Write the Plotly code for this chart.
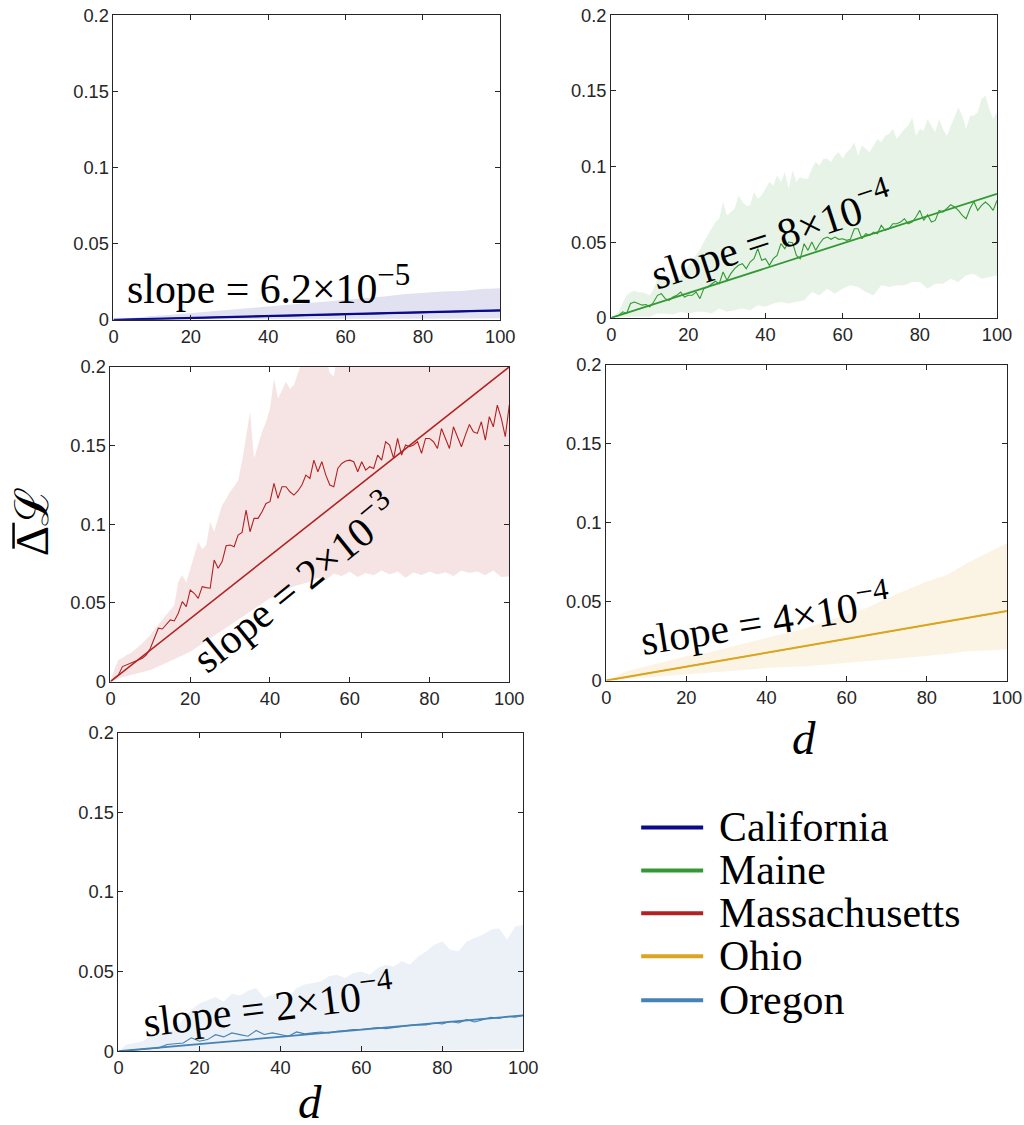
import plotly.graph_objects as go

# The page is photographed with the body's 8px margin and a slight downscale;
# reference pixel R maps to figure pixel R / S - OFF (with a small linear touch-up).
OFF = 8
SX, SY = 0.978, 0.9846
W, H = 1040, 1152


def px(x):
    xr = (x + 3.4) / 1.0034
    return (xr / SX - OFF) / W


def py(y):
    yr = (y - 1.0) / 0.998
    return 1 - (yr / SY - OFF) / H


def fs(size):
    return round(size / 0.981, 1)


# ---------------- data (values in units of 1e-3) ----------------
states = ["California", "Maine", "Massachusetts", "Ohio", "Oregon"]
line_colors = ["#0a0a8a", "#339933", "#b22222", "#daa520", "#4682b4"]
band_colors = ["rgba(10,10,138,0.12)", "rgba(51,153,51,0.12)", "rgba(178,34,34,0.12)",
               "rgba(218,165,32,0.12)", "rgba(70,130,180,0.11)"]
SUP = '<sup><span style="font-size:%dpx">%%s</span></sup>' % round(30 / 0.981)
slope_labels = ["slope = 6.2×10" + SUP % "−5", "slope = 8×10" + SUP % "−4",
                "slope = 2×10" + SUP % "−3", "slope = 4×10" + SUP % "−4",
                "slope = 2×10" + SUP % "−4"]
fit_x = [0, 100]
fit_end = [6.2, 82.0, 200.0, 44.0, 22.5]

x_step1 = list(range(0, 101))
x_step2 = list(range(0, 101, 2))
x_step5 = list(range(0, 101, 5))
x_step10 = list(range(0, 101, 10))

# California
ca_mean = [0, 0.3, 0.6, 0.9, 1.2, 1.5, 1.9, 2.2, 2.5, 2.8, 3.1, 3.4, 3.7, 4.0, 4.3, 4.7, 5.0, 5.3, 5.6, 5.9, 6.2]
ca_upper = [0, 1.5, 2.6, 3.3, 4.4, 5.5, 6.3, 7.7, 8.7, 9.4, 10.9, 11.6, 13.1, 14.2, 15.3, 16.8, 17.9, 18.6, 19.0, 20.3, 20.8]
ca_lower = [0, 0.0, 0.1, 0.1, 0.2, 0.2, 0.3, 0.3, 0.4, 0.4, 0.5, 0.5, 0.6, 0.6, 0.7, 0.7, 0.8, 0.8, 0.9, 0.9, 1.0]

# Maine
me_mean = [0, 1, 1.8, 4.0, 2.9, 9.5, 10.5, 9.5, 8.4, 8.8,
           7.3, 10.5, 14.9, 16.0, 12.7, 11.6, 13.8, 14.9, 17.1, 13.8,
           14.9, 14.9, 17.1, 12.7, 19.3, 20.4, 22.6, 24.2, 22.6, 30.3,
           24.8, 29.2, 32.5, 34.7, 35.8, 32.5, 36.9, 39.1, 45.7, 38.0,
           39.1, 34.7, 39.1, 41.3, 49.0, 45.7, 50.1, 49.7, 41.3, 39.1,
           49.0, 44.6, 50.1, 44.6, 49.0, 52.3, 53.4, 51.9, 53.4, 51.9,
           52.3, 51.2, 51.9, 58.9, 58.9, 52.3, 55.6, 54.5, 56.7, 55.6,
           61.1, 57.8, 58.9, 62.2, 62.2, 63.3, 65.5, 62.2, 63.3, 66.6,
           71.0, 64.4, 68.1, 63.3, 64.4, 71.0, 69.9, 72.1, 74.7, 73.2,
           71.0, 67.7, 65.5, 72.1, 76.9, 71.0, 74.3, 76.5, 74.3, 71.0,
           77.6]
me_upper = [0, 2, 4.4, 10, 14.9, 17, 18, 17, 17, 16,
            15, 19, 25.9, 26, 25.9, 25, 24.8, 26, 28.1, 31,
            34.7, 38, 41.3, 45, 50.1, 54.5, 58, 63.3, 65.5, 76.5,
            67.7, 70, 72.1, 80.9, 76.5, 74, 74.3, 83.1, 78.7, 80.9,
            85.3, 89.7, 87.5, 94.1, 89.7, 96.3, 85.3, 97.4, 89.7, 93,
            91.9, 91.9, 98.5, 102.9, 100.7, 105.1, 105.1, 102.9, 107.3, 109.5,
            105.1, 109.5, 111.6, 116, 107.3, 113.8, 111.6, 109.5, 113.8, 118.2,
            116, 120.4, 121.5, 124.8, 118.2, 121.5, 124.8, 127, 132.5, 120.4,
            124.8, 123.7, 131.4, 127, 122.6, 131.4, 124.8, 120.4, 127, 132.5,
            139, 133.6, 124.8, 133.6, 133.6, 135.8, 144.6, 146.8, 138, 131.4,
            135.8]
me_lower = [0, 0.4, 0.7, 0.7, 0.9, 0.7, 2.9, 2.9, 2.2, 4.0,
            2.9, 4.0, 4.0, 2.9, 6.2, 4.0, 5.1, 6.2, 5.1, 8.4,
            7.3, 9.5, 10.5, 9.5, 10.5, 11.6, 17.1, 14.9, 19.3, 16.0,
            19.3, 21.5, 20.4, 17.1, 14.9, 21.5, 20.4, 21.5, 21.5, 23.7,
            23.7, 19.3, 22.6, 22.6, 25.9, 23.7, 28.1, 29.2, 25.9, 27.0,
            28.1]

# Massachusetts
ma_mean = [0, 2, 4.2, 9.5, 10.6, 11.6, 13.1, 13.8, 14.8, 16.9,
           21.2, 27.5, 33.9, 33.4, 36.0, 39.2, 38.5, 43.4, 50.8, 47.6,
           58.2, 56.1, 52.9, 60.3, 59.7, 59.3, 77.2, 72.0, 76.2, 86.3,
           86.8, 85.7, 93.1, 94.8, 109.0, 95.2, 103.7, 103.7, 107.9, 113.2,
           114.3, 125.9, 116.4, 123.8, 123.8, 120.6, 118.5, 121.1, 124.9, 131.2,
           129.1, 140.7, 133.3, 139.7, 131.2, 124.9, 123.8, 135.4, 138.6, 140.1,
           140.7, 139.7, 133.3, 139.7, 134.4, 136.5, 135.4, 143.9, 140.7, 152.4,
           150.3, 141.8, 154.5, 143.9, 150.3, 149.2, 150.3, 152.4, 145.0, 154.5,
           154.5, 152.4, 148.1, 160.8, 154.5, 148.1, 161.9, 155.6, 149.2, 156.6,
           163.4, 158.7, 157.7, 165.1, 153.4, 168.3, 161.9, 175.7, 167.2, 155.6,
           175.7]
ma_upper = [0, 8, 13.8, 15, 16.9, 18, 20.1, 22, 24.3, 27,
            29.6, 33, 36.0, 39, 42.3, 45, 48.7, 63.5, 67.7, 63,
            72.0, 80, 88.9, 84, 86.8, 101.6, 95.2, 104, 112.2, 116,
            120.6, 124, 128.0, 140, 156.6, 171.4, 141.8, 150, 158.7, 165,
            173.5, 192.6, 179.9, 185, 190.5, 186, 188.4, 196, 203, 215,
            212, 208, 220, 215, 205, 196, 194, 210, 225, 230,
            240, 245, 240, 250, 245, 250, 255, 250, 255, 260,
            255, 260, 265, 260, 265, 270, 265, 270, 275, 270,
            275, 280, 275, 280, 285, 280, 285, 290, 285, 290,
            295, 290, 295, 300, 295, 300, 305, 300, 305, 300,
            305]
ma_lower = [0, 2.1, 3.5, 4.8, 6.0, 7.4, 9.5, 11.6, 14.0, 16.5,
            19.0, 22.0, 25.5, 29.0, 32.5, 36.0, 39.5, 42.5, 46.0, 49.5,
            52.9, 55.0, 58.0, 60.5, 62.0, 63.5, 66.0, 64.5, 68.5, 67.0,
            69.8, 66.5, 69.0, 67.5, 70.5, 68.0, 70.0, 66.0, 69.5, 67.5,
            70.0, 68.0, 69.5, 67.0, 70.5, 69.0, 70.0, 67.5, 70.5, 66.5,
            66.7]

# Ohio
oh_mean = [0, 2.3, 4.6, 6.8, 8.8, 11.0, 13.2, 15.4, 17.6, 19.6, 22.0, 24.0, 26.4, 28.8, 30.8, 33.0, 35.2, 37.4, 39.5, 41.6, 44.0]
oh_upper = [0, 5.9, 9.1, 12.2, 15.4, 17.5, 20.6, 23.8, 26.9, 30.1, 33.3, 37.5, 41.7, 45.9, 52.2, 57.5, 62.7, 66.9, 74.3, 80.6, 86.9]
oh_lower = [0, 0.6, 1.7, 2.7, 3.8, 4.8, 5.9, 6.9, 8.0, 8.6, 9.1, 10.1, 11.2, 12.2, 13.3, 14.4, 15.4, 16.8, 18.5, 19.2, 19.6]

# Oregon
or_mean = [0, 0.4, 0.8, 1.2, 1.6, 2.1, 4.2, 4.6, 5.2, 8.4,
           6.3, 7.3, 10.4, 9.0, 11.5, 10.4, 9.4, 13.0, 10.5, 11.5,
           10.4, 9.4, 12.1, 10.9, 11.5, 12.1, 11.5, 12.5, 12.9, 13.6,
           13.6, 14.2, 14.8, 14.2, 15.0, 15.7, 16.2, 16.7, 16.5, 17.7,
           17.1, 18.8, 17.7, 19.8, 18.4, 19.8, 21.3, 20.5, 21.9, 21.3,
           22.5]
or_upper = [0, 4.2, 5.2, 6.3, 9.4, 10.4, 12.5, 13.6, 20.0, 26.0,
            30.0, 32.0, 34.0, 31.0, 36.0, 35.0, 38.0, 39.7, 33.4, 35.5,
            36.5, 33.4, 39.7, 41.8, 42.8, 43.8, 47.0, 48.0, 45.9, 49.1,
            50.1, 48.0, 52.2, 54.3, 53.2, 56.4, 54.3, 59.5, 62.6, 66.8,
            68.9, 63.7, 62.6, 68.9, 71.0, 73.1, 76.2, 77.2, 69.9, 78.3,
            79.3]
or_lower = [0, 0, 0, 0.2, 0.3, 0.4, 0.5, 0.6, 0.8, 1.0, 1.2]

series = [
    dict(mx=x_step5, mean=ca_mean, ux=x_step5, upper=ca_upper, lx=x_step5, lower=ca_lower),
    dict(mx=x_step1, mean=me_mean, ux=x_step1, upper=me_upper, lx=x_step2, lower=me_lower),
    dict(mx=x_step1, mean=ma_mean, ux=x_step1, upper=ma_upper, lx=x_step2, lower=ma_lower),
    dict(mx=x_step5, mean=oh_mean, ux=x_step5, upper=oh_upper, lx=x_step5, lower=oh_lower),
    dict(mx=x_step2, mean=or_mean, ux=x_step2, upper=or_upper, lx=x_step10, lower=or_lower),
]

# ---------------- layout geometry (reference pixels) ----------------
panels_px = [(113, 500, 13, 318), (611, 997, 13, 316), (110, 509, 365, 680),
             (606, 1007, 363, 679), (118, 523, 731, 1050)]
label_pos = [(40, 0.023, 0), (41.5, 0.056, -18), (45.9, 0.0635, -39),
             (39.7, 0.0399, -9), (37, 0.030, -7)]
fit_width = [2.2, 1.8, 1.6, 2.0, 1.8]
mean_width = [1.4, 1.1, 1.1, 1.2, 1.1]

AX = "#262626"
SERIF = "Liberation Serif, Times New Roman, serif"
fig = go.Figure()
layout = dict(width=W, height=H, margin=dict(l=0, r=0, t=0, b=0),
              paper_bgcolor="white", plot_bgcolor="white", showlegend=False)
annotations = []
shapes = []

for i, (st, s) in enumerate(zip(states, series)):
    n = i + 1
    xa = "x" if n == 1 else f"x{n}"
    ya = "y" if n == 1 else f"y{n}"
    poly_x = list(s["ux"]) + list(reversed(s["lx"]))
    poly_y = [v / 1000 for v in s["upper"]] + [v / 1000 for v in reversed(s["lower"])]
    fig.add_trace(go.Scatter(x=poly_x, y=poly_y, fill="toself", fillcolor=band_colors[i],
                             mode="lines", line=dict(width=0), hoverinfo="skip",
                             xaxis=xa, yaxis=ya, name=st + " band"))
    fig.add_trace(go.Scatter(x=s["mx"], y=[v / 1000 for v in s["mean"]], mode="lines",
                             line=dict(color=line_colors[i], width=mean_width[i]),
                             xaxis=xa, yaxis=ya, name=st))
    fig.add_trace(go.Scatter(x=fit_x, y=[0, fit_end[i] / 1000], mode="lines",
                             line=dict(color=line_colors[i], width=fit_width[i]),
                             xaxis=xa, yaxis=ya, name=st + " fit"))
    x0, x1, y0, y1 = panels_px[i]
    common = dict(showline=True, linecolor=AX, linewidth=1, mirror="ticks",
                  ticks="inside", ticklen=5, tickcolor=AX, tickwidth=1,
                  showgrid=False, zeroline=False,
                  tickfont=dict(family="Liberation Sans, Arial, sans-serif", size=fs(18), color=AX))
    layout["xaxis" if n == 1 else f"xaxis{n}"] = dict(
        domain=[px(x0), px(x1)], range=[0, 100], tickvals=[0, 20, 40, 60, 80, 100],
        anchor=ya, **common)
    layout["yaxis" if n == 1 else f"yaxis{n}"] = dict(
        domain=[py(y1), py(y0)], range=[0, 0.2],
        tickvals=[0, 0.05, 0.1, 0.15, 0.2], ticktext=["0", "0.05", "0.1", "0.15", "0.2"],
        anchor=xa, **common)
    lx, ly, ang = label_pos[i]
    annotations.append(dict(x=lx, y=ly, xref=xa, yref=ya, text=slope_labels[i],
                            showarrow=False, textangle=ang, xanchor="center", yanchor="middle",
                            font=dict(family=SERIF, size=fs(41), color="black")))

# legend (drawn manually)
legend_rows = [826, 869, 912, 955, 999]
for i, st in enumerate(states):
    yy = py(legend_rows[i])
    shapes.append(dict(type="line", xref="paper", yref="paper", x0=px(641), x1=px(703),
                       y0=yy, y1=yy, line=dict(color=line_colors[i], width=4)))
    annotations.append(dict(x=px(717), y=yy, xref="paper", yref="paper", text=st,
                            showarrow=False, xanchor="left", yanchor="middle",
                            font=dict(family=SERIF, size=fs(41), color="black")))

# y-axis title: overlined Delta followed by script L (rotated)
annotations.append(dict(x=px(31), y=py(520), xref="paper", yref="paper",
                        text="Δℒ", showarrow=False, textangle=-90,
                        xanchor="center", yanchor="middle",
                        font=dict(family=SERIF, size=fs(46), color="black")))
shapes.append(dict(type="line", xref="paper", yref="paper", x0=px(13), x1=px(13),
                   y0=py(521), y1=py(547), line=dict(color="black", width=2.5)))

# x-axis titles
for (dx, dy) in [(804, 736), (310, 1101)]:
    annotations.append(dict(x=px(dx), y=py(dy), xref="paper", yref="paper",
                            text="<i>d</i>", showarrow=False, xanchor="center", yanchor="middle",
                            font=dict(family=SERIF, size=fs(46), color="black")))

layout["annotations"] = annotations
layout["shapes"] = shapes
fig.update_layout(**layout)
fig.write_html("out.html")
